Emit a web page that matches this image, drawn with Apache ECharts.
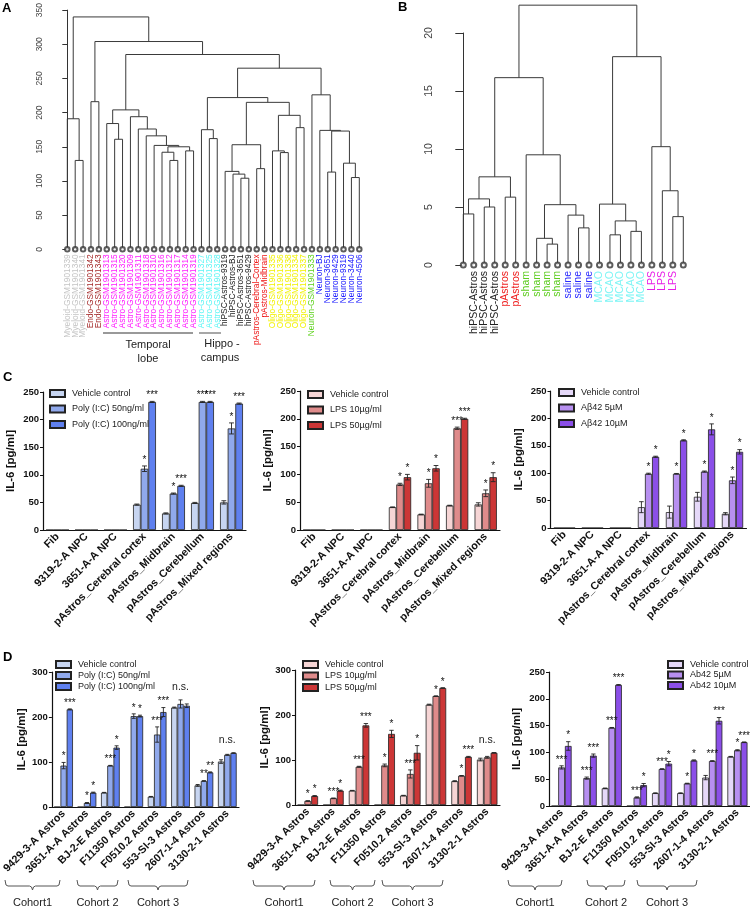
<!DOCTYPE html>
<html><head><meta charset="utf-8">
<script src="https://cdn.jsdelivr.net/npm/echarts@6/dist/echarts.min.js"></script>
<style>html,body{margin:0;padding:0;background:#fff}#c{width:750px;height:908px}</style>
</head><body><div id="c"></div>
<script>
const FONT = '"Liberation Sans", Arial, Helvetica, sans-serif';

// ---------------- Panel A: dendrogram ----------------
const leavesA = ['Myeloid-GSM1901339','Myeloid-GSM1901340','Myeloid-GSM1901341','Endo-GSM1901342','Endo-GSM1901343',
  'Astro-GSM1901313','Astro-GSM1901315','Astro-GSM1901320','Astro-GSM1901309','Astro-GSM1901311','Astro-GSM1901318',
  'Astro-GSM1901310','Astro-GSM1901316','Astro-GSM1901312','Astro-GSM1901317','Astro-GSM1901314','Astro-GSM1901319',
  'Astro-GSM1901327','Astro-GSM1901325','Astro-GSM1901328',
  'hiPSC-Astros-9319','hiPSC-Astros-BJ','hiPSC-Astros-3651','hiPSC-Astros-9429',
  'pAstros-Cerebral-Cortex','pAstros-Midbrain',
  'Oligo-GSM1901335','Oligo-GSM1901336','Oligo-GSM1901338','Oligo-GSM1901334','Oligo-GSM1901337',
  'Neuron-GSM1901333','Neuron-BJ','Neuron-3651','Neuron-9429','Neuron-9319','Neuron-3440','Neuron-4506'];
const groupA = ['my','my','my','en','en','at','at','at','at','at','at','at','at','at','at','at','at','ah','ah','ah',
  'hi','hi','hi','hi','pa','pa','ol','ol','ol','ol','ol','ng','ne','ne','ne','ne','ne','ne'];
const groupColorA = {my:'#c4c4c4', en:'#a52a2a', at:'#ff1aff', ah:'#5cf5f5', hi:'#222222', pa:'#ee1111', ol:'#f2f200', ng:'#5fd21e', ne:'#1515ff'};
// merges in hclust convention: negative = leaf (1-based), positive = earlier merge (1-based), then height
const mergesA = [
  [-2,-3,130],[-1,1,191],[-4,-5,216],[-7,-8,161],[-6,4,184],[-14,-15,130],[-13,6,142],[-16,-17,144],[7,8,150],
  [-12,9,152],[-11,10,166],[-10,11,176],[-9,12,194],[5,13,204],[-19,-20,162],[-18,15,175],[-23,-24,104],[-22,17,110],
  [-21,18,114],[-25,-26,118],[19,20,153],[-28,-29,141.5],[-27,22,144],[-30,-31,178],[23,24,196],[21,25,215],[16,26,222],
  [-37,-38,105],[-36,28,126],[-34,-35,113],[30,29,173],[-33,31,174],[-32,32,226],[27,33,265],[14,34,285],[3,35,304],[2,36,340]];
const yTicksA = {min:0, max:350, step:50};

// ---------------- Panel B: dendrogram ----------------
const leavesB = ['hiPSC-Astros','hiPSC-Astros','hiPSC-Astros','hiPSC-Astros','pAstros','pAstros','sham','sham','sham','sham',
  'saline','saline','saline','MCAO','MCAO','MCAO','MCAO','MCAO','LPS','LPS','LPS','LPS'];
const groupColorB = {'hiPSC-Astros':'#222222', 'pAstros':'#ee1c1c', 'sham':'#5ccc1e', 'saline':'#2a2aff', 'MCAO':'#7ff5f5', 'LPS':'#e81ee8'};
const mergesB = [
  [-1,-2,4.4],[-3,-4,5.0],[1,2,5.7],[-5,-6,5.85],[3,4,7.6],[-9,-10,1.8],[-8,6,2.3],[-12,-13,3.2],[-11,8,4.3],[7,9,5.2],
  [-7,10,9.5],[5,11,16.15],[-15,-16,2.6],[-17,-18,2.9],[13,14,3.8],[-14,15,5.25],[-21,-22,4.17],[-20,17,6.4],[-19,18,10.2],
  [16,19,17.96],[12,20,22.4]];
const yTicksB = {min:0, max:20, step:5};

// ---------------- Panel C: IL-6 bars ----------------
const catC = ['Fib','9319-2-A NPC','3651-A-A NPC','pAstros_Cerebral cortex','pAstros_Midbrain','pAstros_Cerebellum','pAstros_Mixed regions'];
const c1Names = ['Vehicle control','Poly (I:C) 50ng/ml','Poly (I:C) 100ng/ml'];
const c1Veh = [0,0,0,46,30,49,50], c1VehErr = [0,0,0,1,1,1,3];
const c1Low = [0,0,0,111,66,232,184], c1LowErr = [0,0,0,5,1,1,10];
const c1High = [0,0,0,232,80,232,229], c1HighErr = [0,0,0,1,1,1,1];
const c1LowSig = ['','','','*','*','***','*'], c1HighSig = ['','','','***','***','***','***'];

const c2Names = ['Vehicle control','LPS 10\u00b5g/ml','LPS 50\u00b5g/ml'];
const c2Veh = [0,0,0,41,28,44,46], c2VehErr = [0,0,0,0.5,0.5,0.5,3];
const c2Low = [0,0,0,82,84,183,66], c2LowErr = [0,0,0,2,7,2,6];
const c2High = [0,0,0,95,111,200,95], c2HighErr = [0,0,0,5,5,1,8];
const c2LowSig = ['','','','*','*','***','*'], c2HighSig = ['','','','*','*','***','*'];

const c3Names = ['Vehicle control','A\u03b242 5\u00b5M','A\u03b242 10\u00b5M'];
const c3Veh = [0,0,0,38,29,57,26], c3VehErr = [0,0,0,10,11,8,2];
const c3Low = [0,0,0,99,99,103,87], c3LowErr = [0,0,0,1,0.5,1,6];
const c3High = [0,0,0,130,160,180,139], c3HighErr = [0,0,0,1,1,10,4];
const c3LowSig = ['','','','*','*','*','*'], c3HighSig = ['','','','*','*','*','*'];

// ---------------- Panel D: IL-6 bars per line ----------------
const catD = ['9429-3-A Astros','3651-A-A Astros','BJ-2-E Astros','F11350 Astros','F0510.2 Astros','553-SI-3 Astros','2607-1-4 Astros','3130-2-1 Astros'];
const cohorts = ['Cohort1','Cohort 2','Cohort 3'];
const d1Names = ['Vehicle control','Poly (I:C) 50ng/ml','Poly (I:C) 100ng/ml'];
const d1Veh = [0,0,32,0,23,221,48,101], d1VehErr = [0,0,0.5,0,0.5,1,2,4];
const d1Low = [92,9,92,202,161,229,58,116], d1LowErr = [7,1,0.5,5,17,9,0.5,1];
const d1High = [217,32,132,202,211,225,77,120], d1HighErr = [1,1,4,2,10,4,1,0.5];
const d1LowSig = ['*','*','***','*','***','','**',''], d1HighSig = ['***','*','*','*','***','','**',''];
const d1Group = ['','','','','','n.s.','','n.s.'];

const d2Names = ['Vehicle control','LPS 10\u00b5g/ml','LPS 50\u00b5g/ml'];
const d2Veh = [0,0,32,0,21,223,53,101], d2VehErr = [0,0,0.5,0,0.5,1,1,3];
const d2Low = [9,15,85,88,69,242,65,106], d2LowErr = [0.5,0.5,1,3,9,0.5,0.5,2];
const d2High = [20,32,177,158,116,260,107,116], d2HighErr = [1,1,4,8,16,0.5,1,0.5];
const d2LowSig = ['*','***','***','*','***','*','*',''], d2HighSig = ['*','*','***','*','*','*','***',''];
const d2Group = ['','','','','','','','n.s.'];

const d3Names = ['Vehicle control','Ab42 5\u00b5M','Ab42 10\u00b5M'];
const d3Veh = [0,0,33,0,24,24,53,92], d3VehErr = [0,0,0.5,0,0.5,0.5,4,0.5];
const d3Low = [72,52,146,16,69,42,84,104], d3LowErr = [3,2,0.5,1,0.5,0.5,0.5,1];
const d3High = [112,94,226,39,79,85,159,119], d3HighErr = [8,3,0.5,3,4,1,6,0.5];
const d3LowSig = ['***','***','***','***','***','*','***','*'], d3HighSig = ['*','***','***','*','*','*','***','***'];
const d3Group = ['','','','','','','',''];

// ---------------- build ----------------
const grids = [], xAxes = [], yAxes = [], series = [], legends = [];

function dendroSegments(merges) {
  const nx = [], nh = [], segs = [];
  const pos = c => c < 0 ? [(-c) - 1, 0] : [nx[c - 1], nh[c - 1]];
  merges.forEach((m, i) => {
    const a = pos(m[0]), b = pos(m[1]), h = m[2];
    nx[i] = (a[0] + b[0]) / 2; nh[i] = h;
    segs.push({coords: [[a[0], a[1]], [a[0], h], [b[0], h], [b[0], b[1]]]});
  });
  return segs;
}

function addDendro(cfg) {
  const gi = grids.length;
  grids.push(cfg.grid);
  xAxes.push({gridIndex: gi, type: 'value', min: 0, max: cfg.leaves.length - 1, interval: 1,
    axisLine: {show: false}, axisTick: {show: false}, splitLine: {show: false},
    axisLabel: {rotate: 90, fontSize: cfg.labelSize, fontFamily: FONT, margin: cfg.labelMargin,
      formatter: v => cfg.leaves[v] || '', color: v => cfg.colorOf(+v)}});
  yAxes.push({gridIndex: gi, type: 'value', min: cfg.ticks.min, max: cfg.ticks.max, interval: cfg.ticks.step, offset: cfg.offset,
    axisLine: {show: true, lineStyle: {color: '#333', width: 1}},
    axisTick: {show: true, length: cfg.tickLen, lineStyle: {color: '#333'}},
    axisLabel: {rotate: 90, fontSize: cfg.tickSize, color: '#444', fontFamily: FONT, margin: cfg.tickMargin},
    splitLine: {show: false}});
  series.push({type: 'lines', coordinateSystem: 'cartesian2d', xAxisIndex: gi, yAxisIndex: gi, polyline: true, clip: false,
    data: dendroSegments(cfg.merges), lineStyle: {color: '#3a3a3a', width: 1, opacity: 1}, silent: true, z: 2});
  series.push({type: 'scatter', xAxisIndex: gi, yAxisIndex: gi, clip: false, silent: true, z: 3,
    data: cfg.leaves.map((_, i) => [i, 0]), symbol: 'emptyCircle', symbolSize: cfg.circle,
    itemStyle: {color: '#333', borderWidth: 0.8}});
}

addDendro({grid: {left: 67.3, top: 7.7, width: 292, height: 241.6}, leaves: leavesA, merges: mergesA, ticks: yTicksA,
  colorOf: i => groupColorA[groupA[i]], labelSize: 8.4, labelMargin: 5, offset: 15.3, tickLen: 5, tickSize: 8.5, tickMargin: 8, circle: 4.5});
addDendro({grid: {left: 463.3, top: 33, width: 220, height: 232}, leaves: leavesB, merges: mergesB, ticks: yTicksB,
  colorOf: i => groupColorB[leavesB[i]], labelSize: 10.5, labelMargin: 6, offset: 14.3, tickLen: 8, tickSize: 10.5, tickMargin: 14, circle: 5});

function addBars(p) {
  const gi = grids.length;
  grids.push(p.grid);
  xAxes.push({gridIndex: gi, type: 'category', data: p.cats,
    axisLine: {lineStyle: {color: '#111', width: 1.2}},
    axisTick: {alignWithLabel: true, length: 3, lineStyle: {color: '#111'}},
    axisLabel: {rotate: 45, interval: 0, fontSize: 10.8, fontWeight: 'bold', color: '#111', margin: 5, fontFamily: FONT},
    splitLine: {show: false}});
  yAxes.push({gridIndex: gi, type: 'value', min: 0, max: p.yMax, interval: p.yInt,
    name: 'IL-6 [pg/ml]', nameLocation: 'middle', nameGap: p.nameGap, nameRotate: 90,
    nameTextStyle: {fontSize: 11.5, fontWeight: 'bold', color: '#111', fontFamily: FONT},
    axisLine: {show: true, lineStyle: {color: '#111', width: 1.2}},
    axisTick: {show: true, length: 3, lineStyle: {color: '#111'}},
    axisLabel: {fontSize: 9.5, fontWeight: 'bold', color: '#111', margin: 4, fontFamily: FONT},
    splitLine: {show: false}});
  p.names.forEach((nm, k) => {
    series.push({type: 'bar', name: p.id + '|' + nm, xAxisIndex: gi, yAxisIndex: gi, data: p.vals[k],
      barGap: '0%', barCategoryGap: p.gap + '%', silent: true,
      itemStyle: {color: p.colors[k], borderColor: '#222', borderWidth: 0.8}});
  });
  const items = [];
  p.vals.forEach((arr, k) => arr.forEach((v, i) => items.push([i, v, p.errs[k][i], k])));
  series.push({type: 'custom', xAxisIndex: gi, yAxisIndex: gi, data: items, encode: {x: 0, y: 1}, silent: true, clip: false, z: 5,
    renderItem: (params, api) => {
      const i = api.value(0), v = api.value(1), e = api.value(2), k = api.value(3);
      const band = api.size([1, 0])[0];
      const bw = band * (1 - p.gap / 100) / 3;
      const x = api.coord([i, v])[0] + (k - 1) * bw;
      const st = {stroke: '#222', lineWidth: 0.9};
      const ch = [];
      const yt = api.coord([i, v + e])[1];
      if (v > 0 && e > 0) {
        const yb = api.coord([i, Math.max(0, v - e)])[1];
        const cw = bw * 0.32;
        ch.push({type: 'line', shape: {x1: x, y1: yt, x2: x, y2: yb}, style: st});
        ch.push({type: 'line', shape: {x1: x - cw, y1: yt, x2: x + cw, y2: yt}, style: st});
        ch.push({type: 'line', shape: {x1: x - cw, y1: yb, x2: x + cw, y2: yb}, style: st});
      }
      const s = k > 0 ? p.sigs[k - 1][i] : '';
      if (s) ch.push({type: 'text', style: {text: s, x: x, y: yt - 1, textAlign: 'center', textVerticalAlign: 'bottom',
        fontSize: 10, fill: '#111', fontFamily: FONT}});
      if (k === 1 && p.group[i]) {
        let top = 0;
        p.vals.forEach((arr, kk) => { top = Math.max(top, arr[i] + p.errs[kk][i]); });
        const yy = api.coord([i, top])[1];
        ch.push({type: 'text', style: {text: p.group[i], x: x, y: yy - 7, textAlign: 'center', textVerticalAlign: 'bottom',
          fontSize: 10.5, fill: '#222', fontFamily: FONT}});
      }
      return {type: 'group', children: ch};
    }});
  legends.push({data: p.names.map(n => p.id + '|' + n), left: p.legend.left, top: p.legend.top, orient: 'vertical',
    icon: 'rect', itemWidth: 15, itemHeight: 7, itemGap: p.legend.gap, padding: 0, selectedMode: false,
    formatter: n => n.split('|')[1], textStyle: {fontSize: 9, color: '#222', fontFamily: FONT, padding: [0, 0, 0, 2]}});
}

const blues = ['#c7d5f1', '#90a9ec', '#5f80ef'];
const reds = ['#f6d5d5', '#df8b8b', '#cc3636'];
const purples = ['#e5d8f8', '#b78ff0', '#8b4fe8'];

addBars({id: 'C1', grid: {left: 43, top: 392, width: 203, height: 138}, cats: catC, names: c1Names,
  vals: [c1Veh, c1Low, c1High], errs: [c1VehErr, c1LowErr, c1HighErr], sigs: [c1LowSig, c1HighSig], group: catC.map(() => ''),
  colors: blues, yMax: 250, yInt: 50, gap: 21, nameGap: 26, legend: {left: 49, top: 389, gap: 6.5}});
addBars({id: 'C2', grid: {left: 300, top: 391, width: 200, height: 139}, cats: catC, names: c2Names,
  vals: [c2Veh, c2Low, c2High], errs: [c2VehErr, c2LowErr, c2HighErr], sigs: [c2LowSig, c2HighSig], group: catC.map(() => ''),
  colors: reds, yMax: 250, yInt: 50, gap: 22, nameGap: 26, legend: {left: 307, top: 390, gap: 6.5}});
addBars({id: 'C3', grid: {left: 550.5, top: 391, width: 196, height: 137}, cats: catC, names: c3Names,
  vals: [c3Veh, c3Low, c3High], errs: [c3VehErr, c3LowErr, c3HighErr], sigs: [c3LowSig, c3HighSig], group: catC.map(() => ''),
  colors: purples, yMax: 250, yInt: 50, gap: 24, nameGap: 26, legend: {left: 558, top: 388, gap: 6.5}});

addBars({id: 'D1', grid: {left: 43, top: 672, width: 196, height: 135}, cats: catD, names: d1Names,
  vals: [d1Veh, d1Low, d1High], errs: [d1VehErr, d1LowErr, d1HighErr], sigs: [d1LowSig, d1HighSig], group: d1Group,
  colors: blues, yMax: 300, yInt: 100, gap: 20, nameGap: 24, legend: {left: 55, top: 660, gap: 2}});
addBars({id: 'D2', grid: {left: 295, top: 670, width: 205, height: 135}, cats: catD, names: d2Names,
  vals: [d2Veh, d2Low, d2High], errs: [d2VehErr, d2LowErr, d2HighErr], sigs: [d2LowSig, d2HighSig], group: d2Group,
  colors: reds, yMax: 300, yInt: 100, gap: 20, nameGap: 24, legend: {left: 302, top: 660, gap: 2.5}});
addBars({id: 'D3', grid: {left: 549, top: 672, width: 205, height: 134}, cats: catD, names: d3Names,
  vals: [d3Veh, d3Low, d3High], errs: [d3VehErr, d3LowErr, d3HighErr], sigs: [d3LowSig, d3HighSig], group: d3Group,
  colors: purples, yMax: 250, yInt: 50, gap: 20, nameGap: 26, legend: {left: 667, top: 660, gap: 1.5}});

// ---------------- annotations ----------------
const graphic = [];
function letter(t, x, y) { graphic.push({type: 'text', left: x, top: y, style: {text: t, font: 'bold 13px ' + FONT, fill: '#000'}}); }
letter('A', 2, 2); letter('B', 398, 1); letter('C', 3, 371); letter('D', 3, 651);
function txt(t, x, y, size) { graphic.push({type: 'text', style: {text: t, x: x, y: y, textAlign: 'center', textVerticalAlign: 'middle', font: size + 'px ' + FONT, fill: '#222'}}); }
function hline(x1, x2, y) { graphic.push({type: 'line', shape: {x1: x1, y1: y, x2: x2, y2: y}, style: {stroke: '#777', lineWidth: 1.3}}); }
hline(103, 193, 333); txt('Temporal', 148, 345, 11); txt('lobe', 148, 359, 11);
hline(199, 221, 333); txt('Hippo -', 222, 344, 11); txt('campus', 220, 358, 11);
function brace(x1, x2, y, label) {
  const xc = (x1 + x2) / 2;
  graphic.push({type: 'polyline', shape: {points: [[x1, y - 6], [x1 + 1, y - 1], [x1 + 3, y], [xc - 3, y], [xc - 1, y + 1], [xc, y + 4], [xc + 1, y + 1], [xc + 3, y], [x2 - 3, y], [x2 - 1, y - 1], [x2, y - 6]]},
    style: {stroke: '#555', lineWidth: 1, fill: null}});
  txt(label, xc, y + 17, 11);
}
const braceD1 = [[5, 60], [77, 118], [128, 188]];
const braceD2 = [[253, 315], [330, 375], [382, 443]];
const braceD3 = [[508, 562], [587, 625], [637, 697]];
[braceD1, braceD2, braceD3].forEach(set => set.forEach((b, j) => brace(b[0], b[1], 886, cohorts[j])));

const chart = echarts.init(document.getElementById('c'), null, {renderer: 'canvas'});
chart.setOption({animation: false, backgroundColor: '#fff', textStyle: {fontFamily: FONT},
  grid: grids, xAxis: xAxes, yAxis: yAxes, series: series, legend: legends, graphic: graphic});
</script></body></html>
